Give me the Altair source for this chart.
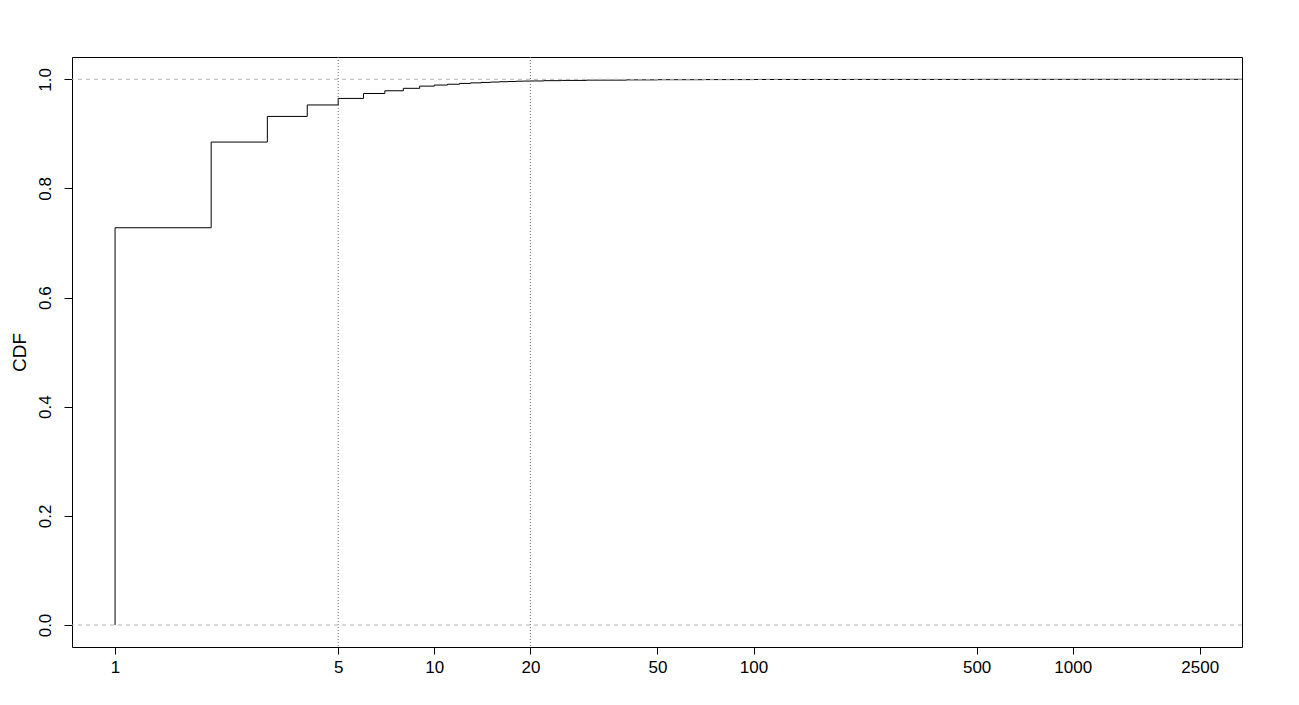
import altair as alt
import pandas as pd

# ECDF knots (value, cumulative proportion)
cdf_x = [1, 1, 2, 3, 4, 5, 6, 7, 8, 9, 10, 11, 12, 13, 14, 15, 16, 17, 18, 19, 20,
         22, 25, 30, 40, 50, 70, 100, 200, 500, 1000, 2480, 3390]
cdf_y = [0.0, 0.728, 0.885, 0.932, 0.953, 0.965, 0.974, 0.979, 0.9835, 0.9875, 0.9895,
         0.991, 0.9925, 0.9935, 0.9943, 0.995, 0.9956, 0.996, 0.9965, 0.9968, 0.997,
         0.9975, 0.998, 0.9985, 0.999, 0.9993, 0.9995, 0.9997, 0.9998, 0.9999, 0.99995,
         1.0, 1.0]

x_ticks = [1, 5, 10, 20, 50, 100, 500, 1000, 2500]
y_ticks = [0.0, 0.2, 0.4, 0.6, 0.8, 1.0]
h_refs = [0.0, 1.0]
v_refs = [5, 20]

x_domain = [0.733, 3390]
y_domain = [-0.0403, 1.0409]

df = pd.DataFrame({"x": cdf_x, "y": cdf_y, "order": list(range(len(cdf_x)))})
hdf = pd.DataFrame({"y": h_refs})
vdf = pd.DataFrame({"x": v_refs})

FONT = "Liberation Sans"

xscale = alt.Scale(type="log", domain=x_domain, nice=False)
yscale = alt.Scale(domain=y_domain, nice=False, zero=False)

xaxis = alt.Axis(values=x_ticks, title=None, grid=False, domain=False,
                 tickSize=7, tickColor="black", labelFont=FONT, labelFontSize=17,
                 labelColor="black", labelPadding=5, format="d", labelFlush=False,
                 labelOverlap=False)
yaxis = alt.Axis(values=y_ticks, title="CDF", grid=False, domain=False,
                 tickSize=8, tickColor="black", labelFont=FONT, labelFontSize=17,
                 labelColor="black", labelAngle=270, labelPadding=10, format=".1f",
                 labelFlush=False, labelOverlap=False,
                 titleFont=FONT, titleFontSize=19, titleFontWeight="normal",
                 titleColor="black", titlePadding=7)

line = alt.Chart(df).mark_line(interpolate="step-after", color="black",
                               strokeWidth=1, clip=True).encode(
    x=alt.X("x:Q", scale=xscale, axis=xaxis),
    y=alt.Y("y:Q", scale=yscale, axis=yaxis),
    order="order:Q",
)

hlines = alt.Chart(hdf).mark_rule(color="#b3b3b3", strokeDash=[4, 4],
                                  strokeWidth=1).encode(
    y=alt.Y("y:Q", scale=yscale),
)

vlines = alt.Chart(vdf).mark_rule(color="#707070", strokeDash=[1, 2],
                                  strokeWidth=1).encode(
    x=alt.X("x:Q", scale=xscale),
)

chart = alt.layer(line, vlines, hlines).properties(
    width=1170, height=590,
    autosize=alt.AutoSizeParams(type="none"),
    padding={"left": 64, "top": 49, "right": 49, "bottom": 50},
    background="white",
).configure_view(stroke="black", strokeWidth=1)

chart.save("out.html", embed_options={"renderer": "svg", "actions": False})
